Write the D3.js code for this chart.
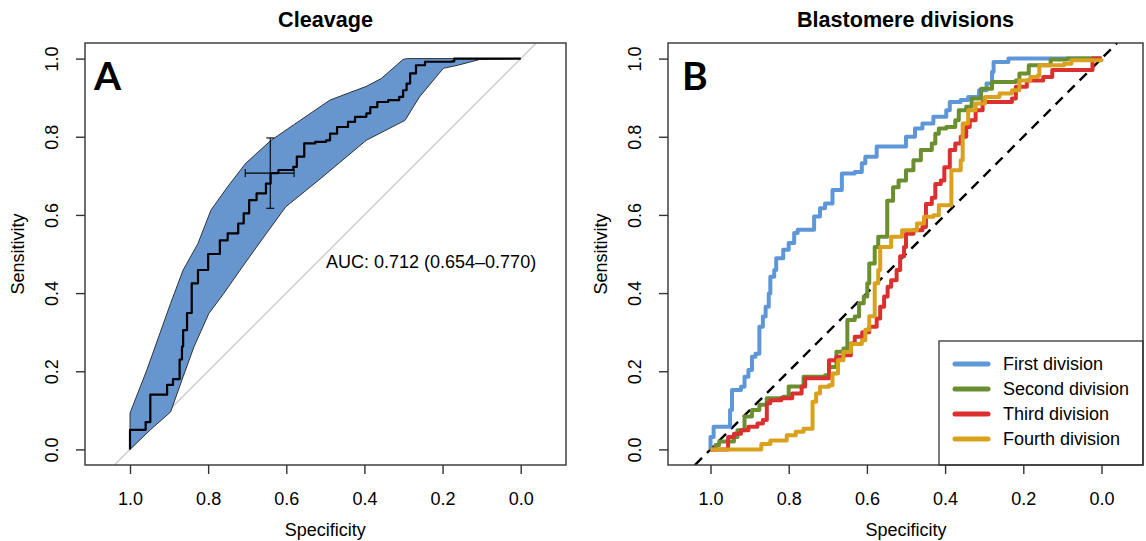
<!DOCTYPE html>
<html lang="en">
<head>
<meta charset="UTF-8">
<title>ROC curves</title>
<script src="https://d3js.org/d3.v7.min.js"></script>
<style>
    body { margin: 0; background: #fff; }
    text { font-family: "Liberation Sans", Arial, sans-serif; fill: #000; }
    .box { fill: none; stroke: #333; stroke-width: 1.4px; }
    .axis line { stroke: #333; stroke-width: 1.4px; }
    .axis text { font-size: 18px; }
    .title { font-size: 21.6px; font-weight: bold; }
    .label { font-size: 18px; }
    .letter { font-family: Lato, "Open Sans", sans-serif; font-size: 39px; font-weight: bold; }
    .roc { fill: none; stroke-linejoin: round; }
</style>
</head>
<body>
<svg width="1146" height="541"></svg>
<script>
// ---- data (specificity, sensitivity) ----
var tickValues = [1.0, 0.8, 0.6, 0.4, 0.2, 0.0];

var cleavageRoc = [[1.0,0],[1.0,0.05],[0.96,0.05],[0.96,0.07],[0.948,0.09],[0.948,0.14],[0.92,0.14],
    [0.905,0.165],[0.89,0.18],[0.873,0.19],[0.873,0.23],[0.867,0.263],[0.864,0.305],[0.854,0.349],
    [0.842,0.425],[0.826,0.459],[0.80,0.50],[0.77,0.535],[0.75,0.553],[0.723,0.578],[0.709,0.604],
    [0.695,0.638],[0.676,0.655],[0.652,0.68],[0.64,0.707],[0.62,0.715],[0.582,0.723],[0.573,0.749],
    [0.554,0.783],[0.526,0.787],[0.498,0.791],[0.488,0.808],[0.47,0.825],[0.442,0.838],[0.424,0.851],
    [0.395,0.86],[0.385,0.876],[0.367,0.889],[0.339,0.894],[0.311,0.902],[0.301,0.919],[0.292,0.936],
    [0.283,0.962],[0.268,0.983],[0.245,0.992],[0.176,0.993],[0.17,1.0],[0.0,1.0]];

var ciUpper = [[1.0,0.093],[0.957,0.203],[0.896,0.374],[0.864,0.459],[0.826,0.527],[0.793,0.612],
    [0.751,0.671],[0.704,0.732],[0.639,0.791],[0.582,0.83],[0.488,0.894],[0.395,0.929],[0.357,0.949],
    [0.301,0.998],[0.29,1.0],[0.0,1.0]];
var ciLower = [[1.0,0],[0.948,0.05],[0.896,0.096],[0.864,0.186],[0.836,0.263],[0.798,0.348],
    [0.76,0.399],[0.718,0.459],[0.676,0.518],[0.601,0.621],[0.517,0.689],[0.395,0.791],[0.296,0.842],
    [0.259,0.902],[0.198,0.975],[0.161,0.983],[0.104,0.998],[0.0,1.0]];

var bestPoint = [0.641, 0.707];
var bestSpecCI = [0.705, 0.580];
var bestSensCI = [0.617, 0.797];
var aucLabel = "AUC: 0.712 (0.654\u20130.770)";

var firstDivision = [[1.0,0],[1.0,0.032],[0.992,0.058],[0.96,0.058],[0.95,0.101],[0.945,0.152],
    [0.922,0.16],[0.913,0.186],[0.903,0.203],[0.894,0.237],[0.885,0.245],[0.875,0.314],[0.866,0.34],
    [0.859,0.365],[0.851,0.399],[0.847,0.442],[0.837,0.459],[0.832,0.489],[0.814,0.511],[0.8,0.528],
    [0.786,0.554],[0.777,0.562],[0.744,0.562],[0.735,0.596],[0.72,0.617],[0.707,0.629],[0.688,0.664],
    [0.664,0.706],[0.631,0.71],[0.613,0.732],[0.604,0.749],[0.575,0.775],[0.51,0.775],[0.5,0.8],
    [0.477,0.821],[0.458,0.834],[0.43,0.851],[0.397,0.868],[0.388,0.889],[0.36,0.894],[0.341,0.902],
    [0.313,0.919],[0.294,0.936],[0.28,0.966],[0.276,0.991],[0.238,1.0],[0.0,1.0]];

var secondDivision = [[1.0,0],[0.987,0.011],[0.978,0.02],[0.95,0.02],[0.94,0.032],[0.931,0.049],
    [0.913,0.084],[0.894,0.101],[0.875,0.114],[0.856,0.131],[0.814,0.135],[0.8,0.161],[0.762,0.186],
    [0.707,0.19],[0.697,0.211],[0.678,0.25],[0.66,0.258],[0.65,0.331],[0.631,0.34],[0.62,0.374],
    [0.608,0.391],[0.599,0.425],[0.594,0.459],[0.594,0.476],[0.58,0.518],[0.571,0.544],[0.548,0.548],
    [0.548,0.636],[0.533,0.671],[0.519,0.688],[0.5,0.714],[0.481,0.74],[0.462,0.766],[0.434,0.783],
    [0.425,0.808],[0.416,0.821],[0.397,0.825],[0.374,0.842],[0.365,0.868],[0.346,0.877],[0.332,0.898],
    [0.308,0.923],[0.28,0.94],[0.219,0.944],[0.21,0.962],[0.186,0.983],[0.144,0.983],[0.13,0.998],
    [0.088,1.0],[0.0,1.0]];

var thirdDivision = [[1.0,0],[0.96,0],[0.955,0.032],[0.94,0.04],[0.922,0.049],[0.903,0.058],
    [0.88,0.066],[0.866,0.075],[0.856,0.118],[0.847,0.126],[0.819,0.131],[0.791,0.143],[0.767,0.161],
    [0.758,0.182],[0.711,0.182],[0.697,0.228],[0.678,0.237],[0.66,0.241],[0.641,0.271],[0.631,0.288],
    [0.612,0.3],[0.594,0.314],[0.575,0.335],[0.566,0.365],[0.556,0.391],[0.547,0.416],[0.538,0.433],
    [0.524,0.459],[0.515,0.494],[0.505,0.518],[0.5,0.552],[0.481,0.561],[0.458,0.569],[0.449,0.628],
    [0.434,0.644],[0.425,0.679],[0.411,0.688],[0.402,0.722],[0.388,0.766],[0.374,0.783],[0.36,0.8],
    [0.346,0.825],[0.337,0.842],[0.322,0.868],[0.304,0.889],[0.229,0.898],[0.219,0.928],[0.191,0.944],
    [0.149,0.953],[0.126,0.971],[0.023,0.979],[0.023,1.0],[0.0,1.0]];

var fourthDivision = [[1.0,0],[0.875,0],[0.87,0.014],[0.847,0.023],[0.805,0.036],[0.782,0.045],
    [0.762,0.053],[0.739,0.053],[0.739,0.122],[0.73,0.143],[0.72,0.16],[0.697,0.164],[0.688,0.194],
    [0.674,0.228],[0.66,0.249],[0.641,0.27],[0.613,0.279],[0.604,0.306],[0.594,0.341],[0.58,0.346],
    [0.58,0.425],[0.571,0.459],[0.566,0.518],[0.538,0.544],[0.51,0.561],[0.472,0.578],[0.454,0.595],
    [0.43,0.599],[0.416,0.625],[0.388,0.625],[0.384,0.714],[0.36,0.74],[0.355,0.834],[0.341,0.868],
    [0.322,0.885],[0.298,0.902],[0.261,0.911],[0.229,0.919],[0.21,0.944],[0.182,0.953],[0.163,0.957],
    [0.159,0.983],[0.096,0.987],[0.077,0.996],[0.0,1.0]];

var seriesNames = ["First division", "Second division", "Third division", "Fourth division"];
var seriesData = [firstDivision, secondDivision, thirdDivision, fourthDivision];
var seriesColors = ["#5e97d8", "#6b8f30", "#db3030", "#d9a11c"];

// ---- layout ----
var configuration = {
    "box_top": 43,
    "box_bottom": 465,
    "y_one": 58.6,
    "y_zero": 449.4,
    "tick_size": 9
};
var panelA = {"box_left": 85, "box_right": 566, "x_one": 130, "x_zero": 520.7, "title": "Cleavage", "letter": "A"};
var panelB = {"box_left": 668, "box_right": 1143, "x_one": 710.5, "x_zero": 1101.5, "title": "Blastomere divisions", "letter": "B"};

var svg = d3.select("svg");

function drawFrame(p, id) {
    var xScale = d3.scaleLinear().domain([1, 0]).range([p.x_one, p.x_zero]);
    var yScale = d3.scaleLinear().domain([0, 1]).range([configuration.y_zero, configuration.y_one]);
    var g = svg.append("g");

    g.append("clipPath").attr("id", id)
        .append("rect")
        .attr("x", p.box_left).attr("y", configuration.box_top)
        .attr("width", p.box_right - p.box_left)
        .attr("height", configuration.box_bottom - configuration.box_top);

    var xAxis = g.append("g").classed("axis", true)
        .attr("transform", "translate(0," + configuration.box_bottom + ")")
        .call(d3.axisBottom(xScale).tickValues(tickValues).tickFormat(d3.format(".1f"))
            .tickSize(configuration.tick_size).tickPadding(18));
    xAxis.select(".domain").remove();

    var yAxis = g.append("g").classed("axis", true)
        .attr("transform", "translate(" + p.box_left + ",0)")
        .call(d3.axisLeft(yScale).tickValues(tickValues).tickFormat(d3.format(".1f"))
            .tickSize(configuration.tick_size));
    yAxis.select(".domain").remove();
    yAxis.selectAll("text")
        .attr("x", 0).attr("dy", 0)
        .attr("text-anchor", "middle")
        .attr("transform", "translate(-27,0) rotate(-90)");

    var cx = (p.box_left + p.box_right) / 2;
    g.append("text").classed("title", true)
        .attr("x", cx).attr("y", 27).attr("text-anchor", "middle").text(p.title);
    g.append("text").classed("label", true)
        .attr("x", (p.x_one + p.x_zero) / 2).attr("y", 536).attr("text-anchor", "middle").text("Specificity");
    g.append("text").classed("label", true)
        .attr("text-anchor", "middle")
        .attr("transform", "translate(" + (p.box_left - 61) + "," + ((configuration.box_top + configuration.box_bottom) / 2) + ") rotate(-90)")
        .text("Sensitivity");

    var plot = g.append("g").attr("clip-path", "url(#" + id + ")");

    // chance line sens = 1 - spec, spanning the box
    var sLo = yScale.invert(configuration.box_bottom), sHi = yScale.invert(configuration.box_top);
    var diag = plot.append("line")
        .attr("x1", xScale(1 - sLo)).attr("y1", yScale(sLo))
        .attr("x2", xScale(1 - sHi)).attr("y2", yScale(sHi));

    return {g: g, plot: plot, x: xScale, y: yScale, diag: diag};
}

// ---- panel A ----
var a = drawFrame(panelA, "clipA");
a.diag.attr("stroke", "#c8c8c8").attr("stroke-width", 1.3);

var area = d3.line().x(function (d) { return a.x(d[0]); }).y(function (d) { return a.y(d[1]); });
a.plot.append("path")
    .attr("d", area(ciUpper.concat(ciLower.slice().reverse())) + "Z")
    .attr("fill", "#6796cf")
    .attr("stroke", "#222")
    .attr("stroke-width", 0.9);

var stepA = d3.line().curve(d3.curveStepAfter)
    .x(function (d) { return a.x(d[0]); }).y(function (d) { return a.y(d[1]); });
a.plot.append("path").classed("roc", true)
    .attr("d", stepA(cleavageRoc))
    .attr("stroke", "#000").attr("stroke-width", 2.2);

// best threshold with CI cross
var bx = a.x(bestPoint[0]), by = a.y(bestPoint[1]);
var cross = a.plot.append("g").attr("stroke", "#000").attr("stroke-width", 1.1);
cross.append("line").attr("x1", a.x(bestSpecCI[0])).attr("x2", a.x(bestSpecCI[1])).attr("y1", by).attr("y2", by);
cross.append("line").attr("x1", bx).attr("x2", bx).attr("y1", a.y(bestSensCI[0])).attr("y2", a.y(bestSensCI[1]));
bestSpecCI.forEach(function (s) {
    cross.append("line").attr("x1", a.x(s)).attr("x2", a.x(s)).attr("y1", by - 4).attr("y2", by + 4);
});
bestSensCI.forEach(function (s) {
    cross.append("line").attr("x1", bx - 4).attr("x2", bx + 4).attr("y1", a.y(s)).attr("y2", a.y(s));
});

a.g.append("text").classed("label", true)
    .attr("x", 326).attr("y", 268).text(aucLabel);

// ---- panel B ----
var b = drawFrame(panelB, "clipB");
b.diag.attr("stroke", "#000").attr("stroke-width", 2.4).attr("stroke-dasharray", "10,7");

var stepB = d3.line().curve(d3.curveStepAfter)
    .x(function (d) { return b.x(d[0]); }).y(function (d) { return b.y(d[1]); });
seriesData.forEach(function (data, i) {
    b.plot.append("path").classed("roc", true)
        .attr("d", stepB(data))
        .attr("stroke", seriesColors[i]).attr("stroke-width", 4);
});

// legend
var legend = svg.append("g");
legend.append("rect")
    .attr("x", 939).attr("y", 341)
    .attr("width", panelB.box_right - 939).attr("height", configuration.box_bottom - 341)
    .attr("fill", "#fff").attr("stroke", "#333").attr("stroke-width", 1.3);
seriesNames.forEach(function (name, i) {
    var ly = 364 + i * 25;
    legend.append("line")
        .attr("x1", 955).attr("x2", 988).attr("y1", ly).attr("y2", ly)
        .attr("stroke", seriesColors[i]).attr("stroke-width", 5).attr("stroke-linecap", "round");
    legend.append("text").classed("label", true)
        .attr("x", 1003).attr("y", ly).attr("dy", "0.35em").text(name);
});

// frames on top
[panelA, panelB].forEach(function (p) {
    svg.append("rect").classed("box", true)
        .attr("x", p.box_left).attr("y", configuration.box_top)
        .attr("width", p.box_right - p.box_left)
        .attr("height", configuration.box_bottom - configuration.box_top);
    svg.append("text").classed("letter", true)
        .attr("x", p.box_left + (p.letter === "A" ? 9 : 14)).attr("y", 90).text(p.letter);
});
</script>
</body>
</html>
